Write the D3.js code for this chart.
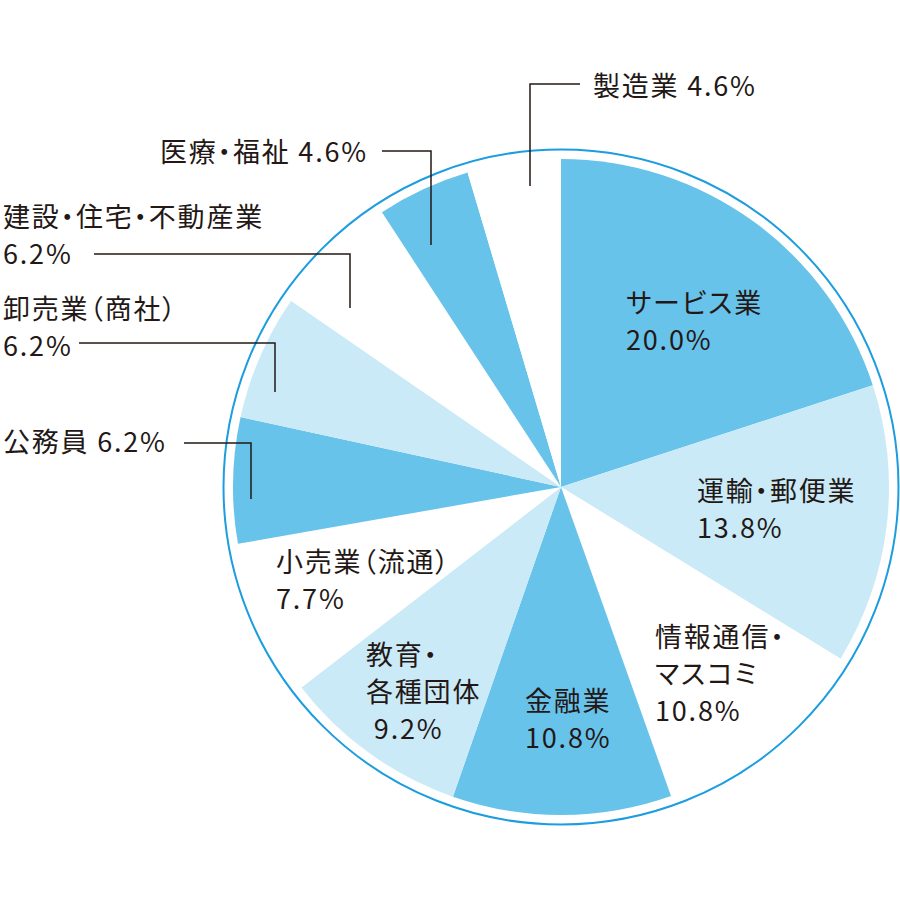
<!DOCTYPE html>
<html>
<head>
<meta charset="utf-8">
<script src="https://cdn.jsdelivr.net/npm/d3@7"></script>
<style>
  html, body { margin: 0; padding: 0; background: #fff; }
  svg text { font-family: "Noto Sans CJK JP", "Noto Sans", sans-serif; fill: #231815; white-space: pre; font-feature-settings: "palt"; letter-spacing: 1.8px; }
</style>
</head>
<body>
<svg id="chart" width="900" height="900"></svg>
<script>
// ---- data ----
const categories = ["サービス業", "運輸・郵便業", "情報通信・マスコミ", "金融業", "教育・各種団体", "小売業（流通）", "公務員", "卸売業（商社）", "建設・住宅・不動産業", "医療・福祉", "製造業"];
const values = [20.0, 13.8, 10.8, 10.8, 9.2, 7.7, 6.2, 6.2, 6.2, 4.6, 4.6];
const labelLines = [
  ["サービス業", "20.0%"],
  ["運輸・郵便業", "13.8%"],
  ["情報通信・", "マスコミ", "10.8%"],
  ["金融業", "10.8%"],
  ["教育・", "各種団体", " 9.2%"],
  ["小売業（流通）", "7.7%"],
  ["公務員 6.2%"],
  ["卸売業（商社）", "6.2%"],
  ["建設・住宅・不動産業", "6.2%"],
  ["医療・福祉 4.6%"],
  ["製造業 4.6%"]
];

// ---- layout (not data) ----
const W = 900, H = 900;
const cx = 561, cy = 487;
const rPie = 328, rRing = 337.5;
const fills = ["#68c3eb", "#cbeaf7", "#ffffff"];
const fillFor = i => i === values.length - 1 ? fills[2] : fills[i % 3];
const fontSize = 27, lineH = 37;
// label anchor: x, first baseline y; leader: [startX, y, elbowX, endY]
const labelLayout = [
  {x: 626, y: 313},
  {x: 697, y: 501},
  {x: 655, y: 647},
  {x: 525, y: 711},
  {x: 366, y: 665},
  {x: 276, y: 572},
  {x: 3,   y: 452, leader: [184, 443, 251, 499]},
  {x: 3,   y: 319, leader: [79, 343, 275, 392]},
  {x: 3,   y: 227, leader: [94, 254, 350, 308]},
  {x: 160, y: 162, leader: [382, 151, 431, 245]},
  {x: 593, y: 96,  leader: [580, 84, 530, 186]}
];

const svg = d3.select("#chart");
const g = svg.append("g").attr("transform", `translate(${cx},${cy})`);

const pie = d3.pie().value(d => d).sort(null);
const arc = d3.arc().innerRadius(0).outerRadius(rPie);
const arcs = pie(values);

g.selectAll("path.slice")
  .data(arcs)
  .join("path")
  .attr("class", "slice")
  .attr("d", arc)
  .attr("fill", (d, i) => fillFor(i));

g.append("circle")
  .attr("r", rRing)
  .attr("fill", "none")
  .attr("stroke", "#1b9ddf")
  .attr("stroke-width", 2);

// leaders
labelLayout.forEach(l => {
  if (!l.leader) return;
  const [x0, y0, x1, y1] = l.leader;
  svg.append("path")
    .attr("d", `M${x0},${y0}H${x1}V${y1}`)
    .attr("fill", "none")
    .attr("stroke", "#231815")
    .attr("stroke-width", 1.5);
});

// labels
labelLines.forEach((lines, i) => {
  const l = labelLayout[i];
  const t = svg.append("text")
    .attr("x", l.x).attr("y", l.y)
    .attr("font-size", fontSize);
  lines.forEach((s, j) => {
    t.append("tspan").attr("x", l.x).attr("y", l.y + j * lineH).text(s);
  });
});
</script>
</body>
</html>
